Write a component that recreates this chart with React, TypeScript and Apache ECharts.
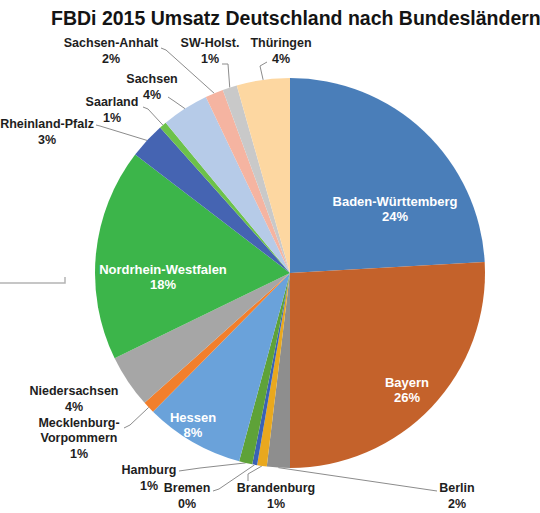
import React, { useEffect, useRef } from "react";
import * as echarts from "echarts";

const TITLE = "FBDi 2015 Umsatz Deutschland nach Bundesländern";

const categories = [
  "Baden-Württemberg",
  "Bayern",
  "Berlin",
  "Brandenburg",
  "Bremen",
  "Hamburg",
  "Hessen",
  "Mecklenburg-Vorpommern",
  "Niedersachsen",
  "Nordrhein-Westfalen",
  "Rheinland-Pfalz",
  "Saarland",
  "Sachsen",
  "Sachsen-Anhalt",
  "SW-Holst.",
  "Thüringen",
];

const shares = [24.1, 25.9, 1.9, 0.8, 0.4, 1.1, 8.2, 1.0, 4.4, 17.6, 3.0, 0.6, 3.9, 1.5, 1.2, 4.4];

const colors = [
  "#4a7eb9",
  "#c4622b",
  "#8e8e8e",
  "#e9a81e",
  "#3b62b5",
  "#5ea238",
  "#6aa2da",
  "#f27f2c",
  "#a6a6a6",
  "#3cb54a",
  "#4564b2",
  "#6cc24a",
  "#b6cbe8",
  "#f5b4a1",
  "#c9c9c9",
  "#fdd7a1",
];

const insideNames = ["Baden-Württemberg", "Bayern", "Hessen", "Nordrhein-Westfalen"];
const noLineNames = ["Niedersachsen"];

// label anchor (centre of label block) and leader-line elbows
const labelPlacement: Record<string, { x: number; y: number; line?: number[][] }> = {
  "Baden-Württemberg": { x: 395, y: 209 },
  Bayern: { x: 407, y: 390 },
  Hessen: { x: 193, y: 425 },
  "Nordrhein-Westfalen": { x: 163, y: 277 },
  Berlin: { x: 457, y: 496, line: [[437, 491], [437, 491]] },
  Brandenburg: { x: 276, y: 496, line: [[248, 474], [248, 481]] },
  Bremen: { x: 187, y: 496, line: [[219, 489], [213, 491]] },
  Hamburg: { x: 149, y: 478, line: [[200, 468], [179, 471]] },
  "Mecklenburg-Vorpommern": { x: 79, y: 438, line: [[130, 425], [124, 428]] },
  Niedersachsen: { x: 74, y: 399 },
  "Rheinland-Pfalz": { x: 47, y: 132, line: [[100, 126], [96, 125]] },
  Saarland: { x: 112, y: 110, line: [[148, 109], [143, 107]] },
  Sachsen: { x: 152, y: 87, line: [[174, 101], [168, 97]] },
  "Sachsen-Anhalt": { x: 111, y: 51, line: [[166, 50], [161, 48]] },
  "SW-Holst.": { x: 210, y: 51, line: [[228, 64], [222, 64]] },
  Thüringen: { x: 281, y: 51, line: [[260, 66], [267, 62]] },
};

export default function App() {
  const ref = useRef<HTMLDivElement>(null);

  useEffect(() => {
    if (!ref.current) return;
    const chart = echarts.init(ref.current, null, { renderer: "svg" });

    const data = categories.map((name, i) => {
      const inside = insideNames.includes(name);
      return {
        name,
        value: shares[i],
        itemStyle: { color: colors[i] },
        label: inside
          ? { position: "inner", color: "#ffffff", fontSize: 13 }
          : { position: "outside", color: "#1e1e1e", fontSize: 12.5 },
        labelLine: { show: !inside && !noLineNames.includes(name) },
      };
    });

    chart.setOption({
      animation: false,
      backgroundColor: "#ffffff",
      title: {
        text: TITLE,
        left: 46,
        top: 3,
        textStyle: {
          fontFamily: "Liberation Sans, Arial, sans-serif",
          fontSize: 19.5,
          fontWeight: "bold",
          color: "#141414",
        },
      },
      graphic: [
        {
          type: "polyline",
          shape: { points: [[0, 283], [65, 283], [65, 277]] },
          style: { stroke: "#b4b4b4", lineWidth: 1.5, fill: "none" },
        },
      ],
      series: [
        {
          type: "pie",
          center: [290, 273],
          radius: 195,
          startAngle: 90,
          clockwise: true,
          avoidLabelOverlap: false,
          itemStyle: { borderWidth: 0 },
          label: {
            show: true,
            fontFamily: "Liberation Sans, Arial, sans-serif",
            fontWeight: "bold",
            lineHeight: 15.5,
            align: "center",
            formatter: (p: any) =>
              `${String(p.name).replace("Mecklenburg-", "Mecklenburg-\n")}\n${Math.round(p.percent)}%`,
          },
          labelLine: {
            show: true,
            lineStyle: { color: "#8c8c8c", width: 1 },
          },
          labelLayout: (params: any) => {
            const name = categories[params.dataIndex];
            const place = labelPlacement[name];
            if (!place) return {};
            const res: any = { x: place.x, y: place.y, align: "center", verticalAlign: "middle" };
            if (place.line && params.labelLinePoints) {
              res.labelLinePoints = [params.labelLinePoints[0], ...place.line];
            }
            return res;
          },
          data,
        },
      ],
    });

    return () => chart.dispose();
  }, []);

  return (
    <div
      ref={ref}
      style={{ position: "fixed", left: 0, top: 0, width: 540, height: 513 }}
    />
  );
}
